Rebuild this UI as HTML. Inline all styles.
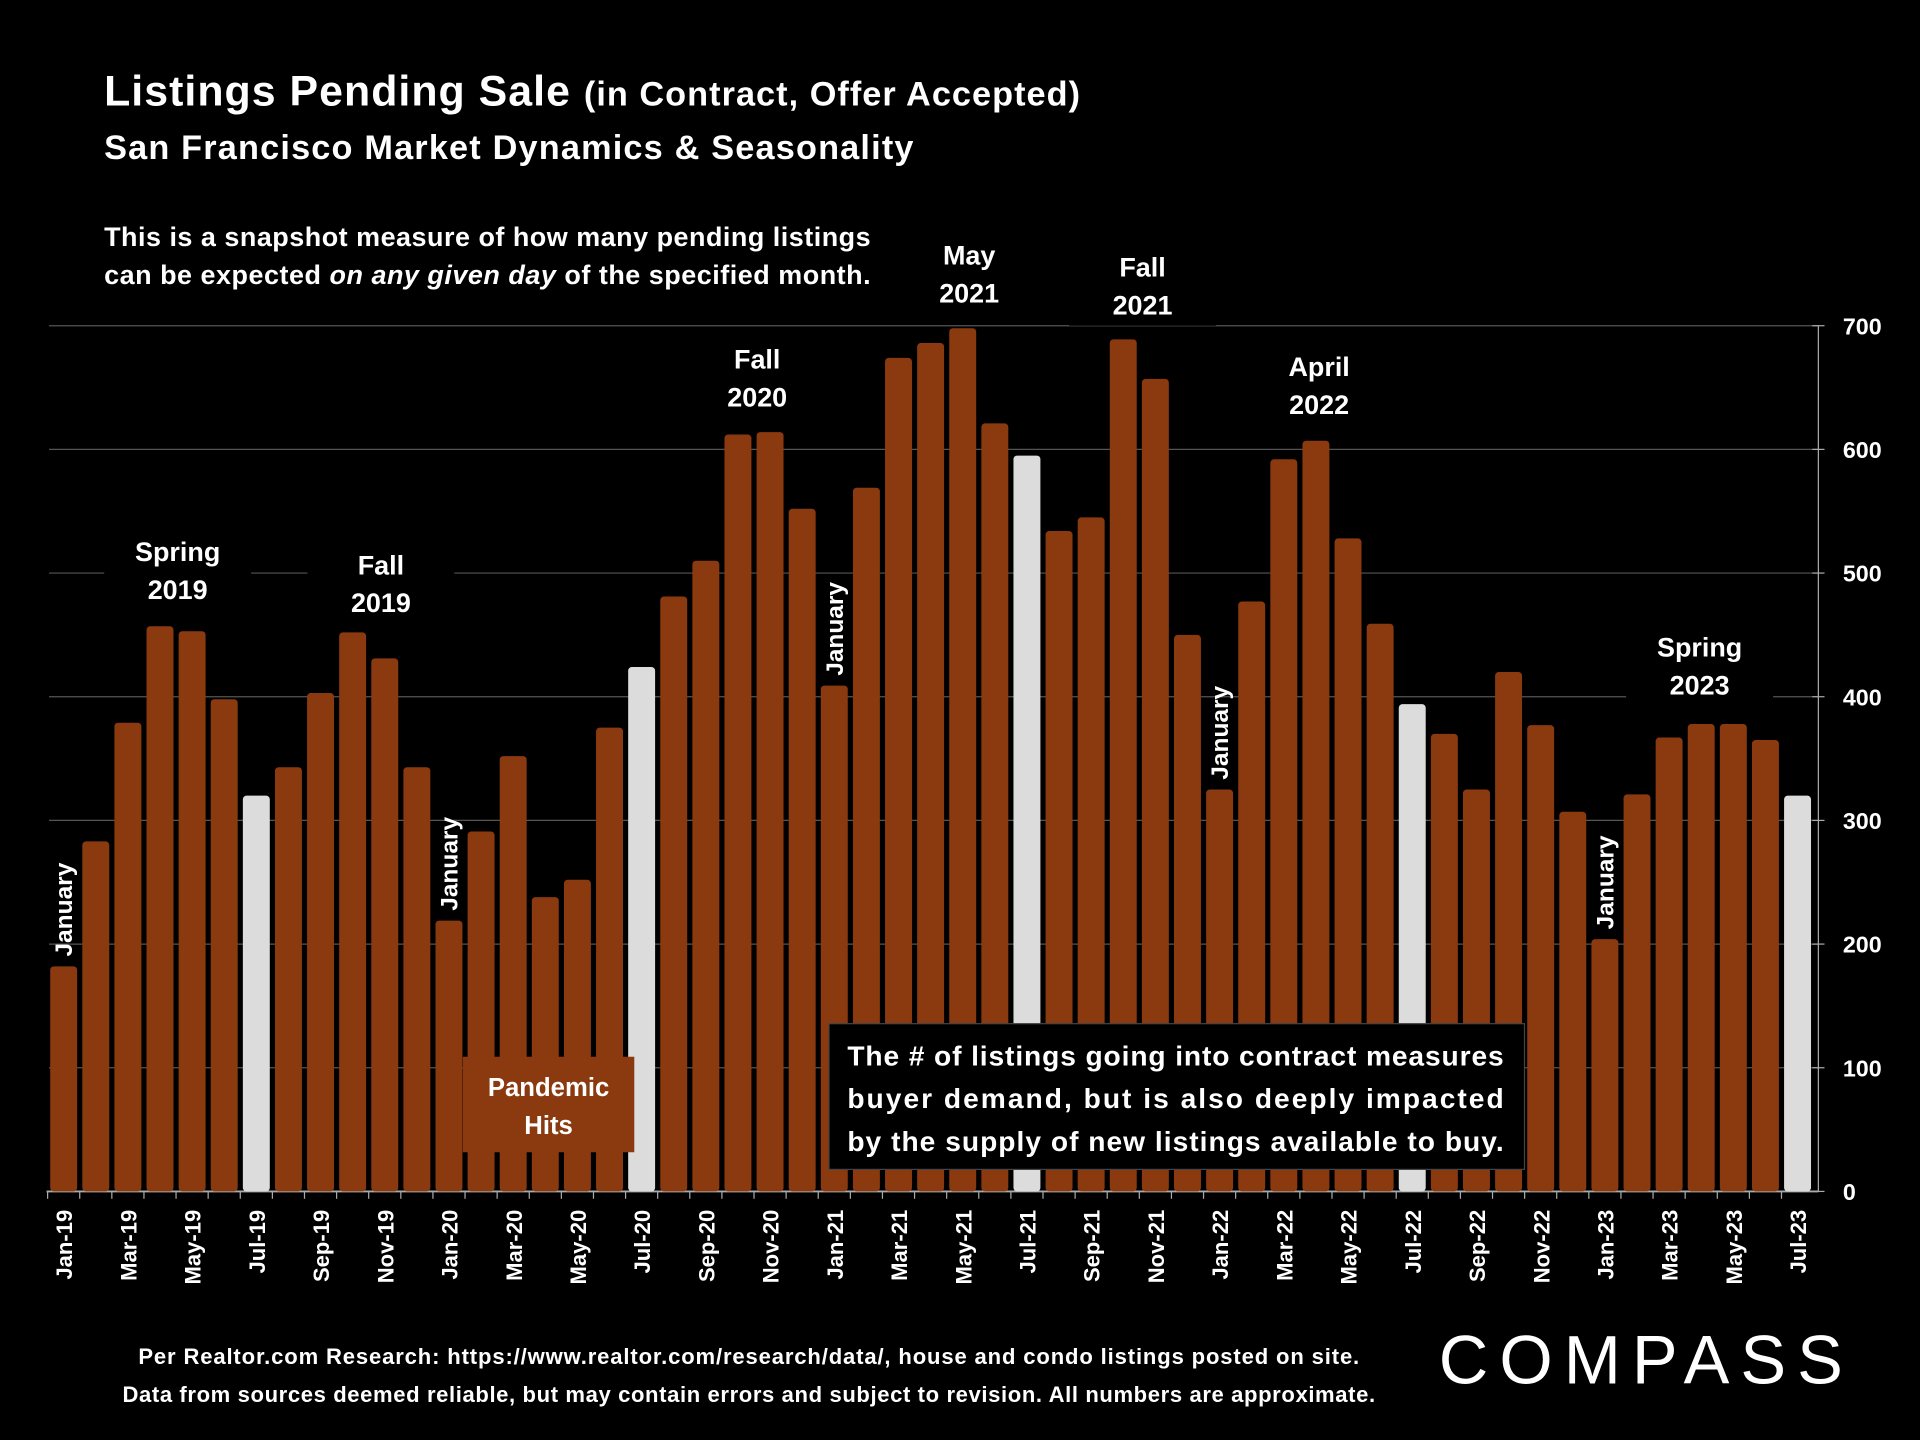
<!DOCTYPE html>
<html><head><meta charset="utf-8">
<style>
html,body{margin:0;padding:0;background:#000;width:1920px;height:1440px;overflow:hidden}
svg{display:block}
text{font-family:"Liberation Sans",Arial,sans-serif;fill:#fff;font-weight:bold}
</style></head>
<body>
<svg id="chart" width="1920" height="1440" viewBox="0 0 1568 1176" xmlns="http://www.w3.org/2000/svg">
<rect width="1568" height="1176" fill="#000"/>
<text x="85" y="86" font-size="35" textLength="797">Listings Pending Sale <tspan font-size="28">(in Contract, Offer Accepted)</tspan></text>
<text x="85" y="130" font-size="28" textLength="661">San Francisco Market Dynamics &amp; Seasonality</text>
<text x="85" y="201" font-size="22" textLength="626">This is a snapshot measure of how many pending listings</text>
<text x="85" y="232" font-size="22" textLength="626">can be expected <tspan font-style="italic">on any given day</tspan> of the specified month.</text>
<g id="grid"></g>
<g id="bars"></g>
<g id="xlabels"></g>
<g id="ylabels"></g>
<g id="notes"></g>
<rect x="378" y="863" width="140" height="78" fill="#8B3A0F"/>
<text x="448" y="895" font-size="21" text-anchor="middle">Pandemic</text>
<text x="448" y="926" font-size="21" text-anchor="middle">Hits</text>
<rect x="677" y="836" width="568" height="119" fill="#000" stroke="#444" stroke-width="1"/>
<text x="692" y="870" font-size="23" textLength="536">The # of listings going into contract measures</text>
<text x="692" y="905" font-size="23" textLength="536">buyer demand, but is also deeply impacted</text>
<text x="692" y="940" font-size="23" textLength="536">by the supply of new listings available to buy.</text>
<text x="113" y="1114" font-size="18" textLength="997">Per Realtor.com Research:  https://www.realtor.com/research/data/, house and condo listings posted on site.</text>
<text x="100" y="1145" font-size="18" textLength="1023">Data from sources deemed reliable, but may contain errors and subject to revision. All numbers are approximate.</text>
<text x="1175" y="1130" font-size="56" textLength="330" style="font-weight:normal">COMPASS</text>
</svg>
<script>
const months = ["Jan-19","Feb-19","Mar-19","Apr-19","May-19","Jun-19","Jul-19","Aug-19","Sep-19","Oct-19","Nov-19","Dec-19",
"Jan-20","Feb-20","Mar-20","Apr-20","May-20","Jun-20","Jul-20","Aug-20","Sep-20","Oct-20","Nov-20","Dec-20",
"Jan-21","Feb-21","Mar-21","Apr-21","May-21","Jun-21","Jul-21","Aug-21","Sep-21","Oct-21","Nov-21","Dec-21",
"Jan-22","Feb-22","Mar-22","Apr-22","May-22","Jun-22","Jul-22","Aug-22","Sep-22","Oct-22","Nov-22","Dec-22",
"Jan-23","Feb-23","Mar-23","Apr-23","May-23","Jun-23","Jul-23"];
const pending = [182,283,379,457,453,398,320,343,403,452,431,343,
219,291,352,238,252,375,424,481,510,612,614,552,
409,569,674,686,698,621,595,534,545,689,657,450,
325,477,592,607,528,459,394,370,325,420,377,307,
204,321,367,378,378,365,320];
const yTicks = [0,100,200,300,400,500,600,700];
const notes = [
 {i:3.55,lines:["Spring","2019"],y:458},
 {i:9.88,lines:["Fall","2019"],y:469},
 {i:21.6,lines:["Fall","2020"],y:301},
 {i:28.2,lines:["May","2021"],y:216},
 {i:33.6,lines:["Fall","2021"],y:226},
 {i:39.1,lines:["April","2022"],y:307},
 {i:50.95,lines:["Spring","2023"],y:536}
];
const janIdx = [0,12,24,36,48];
const NS="http://www.w3.org/2000/svg";
const X0=52, STEP=(1468-52)/54, Y0=973, YS=707/700, BW=22;
const xs=i=>X0+i*STEP, ys=v=>Y0-v*YS;
function mk(tag,attrs,parent){const e=document.createElementNS(NS,tag);for(const k in attrs)e.setAttribute(k,attrs[k]);parent.appendChild(e);return e;}
const grid=document.getElementById('grid'), bars=document.getElementById('bars'), xl=document.getElementById('xlabels'), yl=document.getElementById('ylabels'), nt=document.getElementById('notes');
yTicks.forEach(t=>{
 if(t>0){const g=mk('line',{x1:40,x2:1485,y1:ys(t),y2:ys(t),stroke:'#555','stroke-width':1},grid);
 
 }
 const tk=mk('line',{x1:1480,x2:1490,y1:ys(t),y2:ys(t),stroke:'#aaa','stroke-width':1},grid);
 
 
 const lb=mk('text',{x:1505,y:ys(t)+7,'font-size':19},yl);
 lb.textContent=t;
 
 
});
const ax=mk('line',{x1:1485,x2:1485,y1:ys(700),y2:Y0,stroke:'#aaa','stroke-width':1},grid);


const bx=mk('line',{x1:38,x2:1485,y1:Y0,y2:Y0,stroke:'#aaa','stroke-width':1.5},grid);


pending.forEach((v,i)=>{
 const gray=months[i].startsWith('Jul');
 const r=mk('rect',{x:xs(i)-BW/2,y:ys(v),width:BW,height:v*YS,rx:3,fill:gray?'#dcdcdc':'#8B3A0F'},bars);
 
 
 const tk=mk('line',{x1:xs(i)-STEP/2,x2:xs(i)-STEP/2,y1:Y0,y2:Y0+6,stroke:'#aaa'},grid);
 
 
 if(i%2===0){
  const t=mk('text',{x:0,y:0,'font-size':18,'text-anchor':'end',transform:`translate(${xs(i)+7},988) rotate(-90)`},xl);
  t.textContent=months[i];
  
  
 }
});
janIdx.forEach(i=>{
 const top=ys(pending[i])-8;
 const t=mk('text',{x:0,y:0,'font-size':20,'text-anchor':'start',transform:`translate(${xs(i)+7},${top}) rotate(-90)`},nt);
 t.textContent='January';
 
 
});
notes.forEach(n=>{
 const cx=xs(n.i);
 const bg=mk('rect',{x:cx-60,y:n.y-26,width:120,height:66,fill:'#000'},nt);
 
 
 n.lines.forEach((l,k)=>{
  const t=mk('text',{x:cx,y:n.y+k*31,'font-size':22,'text-anchor':'middle'},nt);
  t.textContent=l;
  
  
 });
});
</script>
</body></html>
